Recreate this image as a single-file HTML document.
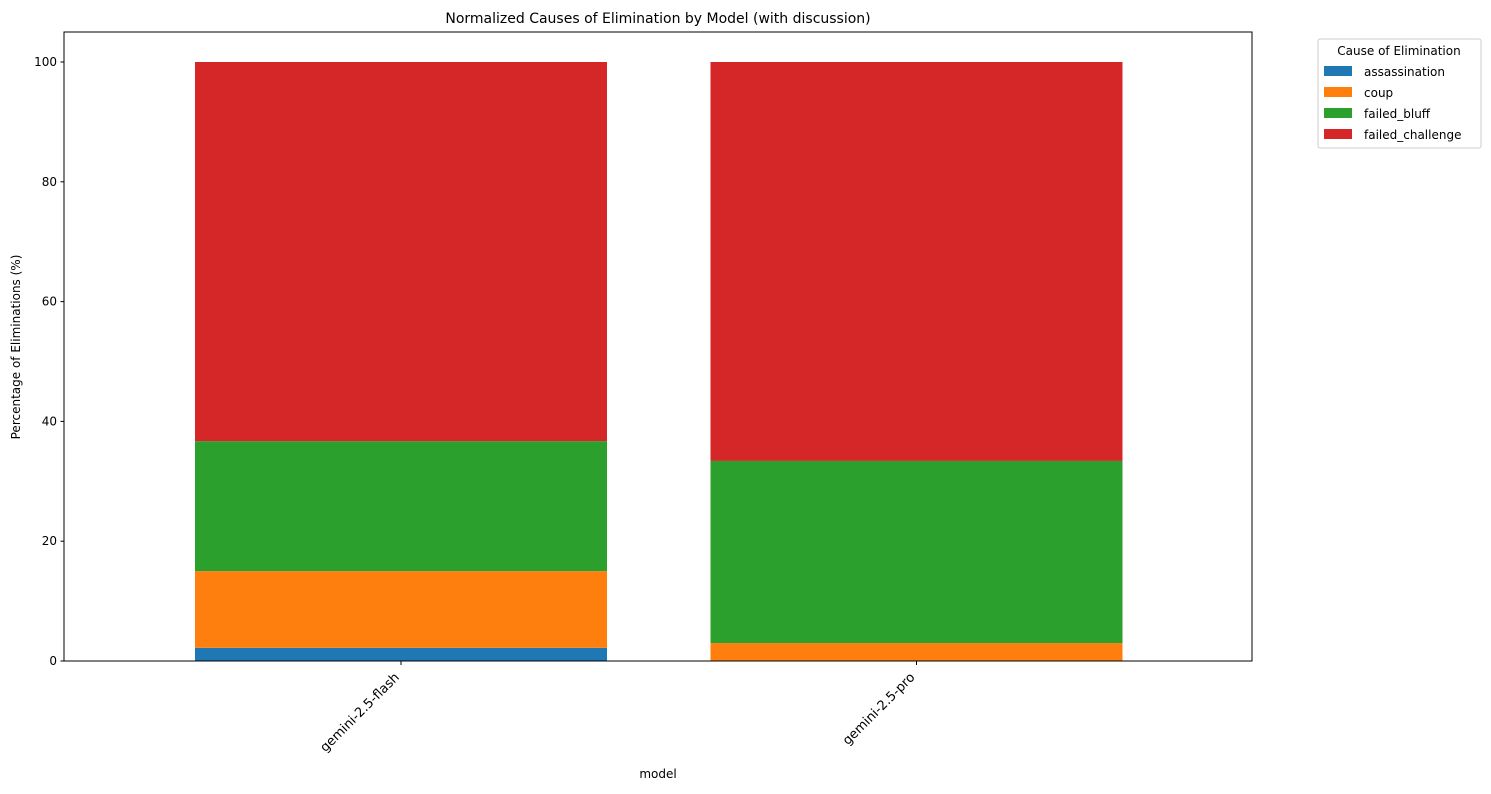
<!DOCTYPE html>
<html><head><meta charset="utf-8"><style>
body{margin:0;background:#fff;font-family:"DejaVu Sans","Liberation Sans",sans-serif;}
svg text{font-family:"DejaVu Sans","Liberation Sans",sans-serif;fill:#000;}
</style></head><body>
<svg id="chart" width="1491" height="790" xmlns="http://www.w3.org/2000/svg">
<rect width="1491" height="790" fill="#fff"/>
<text x="658" y="23" font-size="14" text-anchor="middle">Normalized Causes of Elimination by Model (with discussion)</text>
<text x="658" y="778" font-size="12" text-anchor="middle">model</text>
<text transform="translate(20,347) rotate(-90)" font-size="12" text-anchor="middle">Percentage of Eliminations (%)</text>
<g id="bars"></g>
<g id="yticks"></g>
<g id="xticks"></g>
<rect x="64" y="32" width="1188" height="629" fill="none" stroke="#000" stroke-width="1"/>
<g id="legend">
<rect x="1318" y="39" width="163" height="109" rx="2" fill="#fff" stroke="#ccc"/>
<text x="1399" y="55" font-size="12" text-anchor="middle">Cause of Elimination</text>
</g>
</svg>
<script>
const categories = ["gemini-2.5-flash", "gemini-2.5-pro"];
const seriesNames = ["assassination", "coup", "failed_bluff", "failed_challenge"];
const assassination = [2.2, 0];
const coup = [12.8, 3.0];
const failedBluff = [21.7, 30.4];
const failedChallenge = [63.3, 66.6];
const yTicks = [0, 20, 40, 60, 80, 100];
const colors = ["#1f77b4", "#ff7f0e", "#2ca02c", "#d62728"];
const series = [assassination, coup, failedBluff, failedChallenge];
const NS = "http://www.w3.org/2000/svg";
function y(v){ return 661 - v * 5.99; }
function x(i){ return 401 + i * 515.5; }
const barW = 412;
function mk(tag, attrs, parent){ const e = document.createElementNS(NS, tag); for (const k in attrs) e.setAttribute(k, attrs[k]); parent.appendChild(e); return e; }
const bars = document.getElementById("bars");
categories.forEach((c, i) => {
  let base = 0;
  series.forEach((s, j) => {
    const v = s[i];
    const r = mk("rect", {x: x(i) - barW/2, y: y(base + v), width: barW, height: y(base) - y(base + v), fill: colors[j]}, bars);
    
    
    base += v;
  });
});
const yt = document.getElementById("yticks");
yTicks.forEach(t => {
  const l = mk("line", {x1: 60.5, x2: 64, y1: y(t), y2: y(t), stroke: "#000"}, yt);
  
  
  const tx = mk("text", {x: 57, y: y(t) + 4, "font-size": 12, "text-anchor": "end"}, yt);
  tx.textContent = t;
  
  
});
const xt = document.getElementById("xticks");
categories.forEach((c, i) => {
  const l = mk("line", {x1: x(i), x2: x(i), y1: 661, y2: 665, stroke: "#000"}, xt);
  
  
  const tx = mk("text", {transform: "translate(" + (x(i) - 1) + ",678) rotate(-45)", "font-size": 13, "text-anchor": "end"}, xt);
  tx.textContent = c;
  
  
});
const lg = document.getElementById("legend");
seriesNames.forEach((n, j) => {
  const cy = 71 + j * 21;
  const r = mk("rect", {x: 1324, y: cy - 5, width: 28, height: 10, fill: colors[j]}, lg);
  
  
  const t = mk("text", {x: 1364, y: cy + 5, "font-size": 12}, lg);
  t.textContent = n;
  
  
});
</script>
</body></html>
